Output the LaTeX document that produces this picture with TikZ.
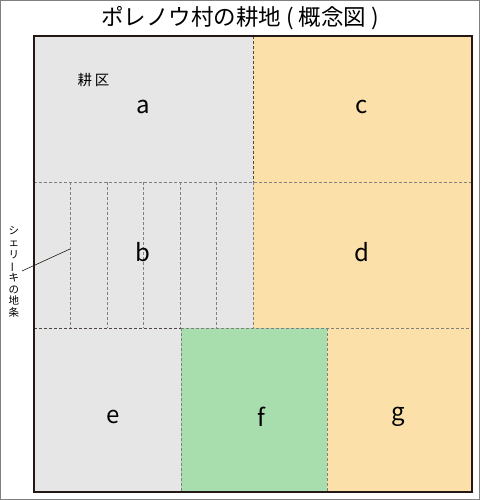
\documentclass[tikz,border=0pt]{standalone}
\usepackage{fontspec}
\setmainfont{Noto Sans CJK JP}
\newfontfamily\cjk{Noto Sans CJK JP}
\definecolor{plotgray}{HTML}{E6E6E6}
\definecolor{plotorange}{HTML}{FBE1A9}
\definecolor{plotgreen}{HTML}{A8DEAE}
\definecolor{frameblack}{HTML}{231815}
\definecolor{dashgray}{HTML}{808080}
\tikzset{
  letter/.style={font=\fontsize{24}{28}\selectfont, text=black, inner sep=0pt},
  graydash/.style={draw=dashgray, line width=0.9pt, dash pattern=on 3pt off 2pt},
  darkdash/.style={draw=frameblack!80, line width=0.7pt, dash pattern=on 3pt off 2pt},
}
\begin{document}
\begin{tikzpicture}[x=1pt,y=-1pt]
\useasboundingbox (0,0) rectangle (480,500);
\draw[dashgray, line width=1pt] (0.5,0.5) rectangle (479.5,499.5);
% title
\node[font=\fontsize{22.5}{26}\selectfont] (title) at (240,18) {ポレノウ村の耕地 ( 概念図 )};
% regions
\fill[plotgray] (34,36) rectangle (253,182);
\fill[plotgray] (34,182) rectangle (253,328);
\fill[plotorange] (253,36) rectangle (472,182);
\fill[plotorange] (253,182) rectangle (472,328);
\fill[plotgray] (34,328) rectangle (181,492);
\fill[plotgreen] (181,328) rectangle (327,492);
\fill[plotorange] (327,328) rectangle (472,492);
% dividing lines
\draw[darkdash] (253,36) -- (253,182);
\draw[graydash] (34,182) -- (472,182);
\draw[graydash] (253,182) -- (253,328);
\draw[darkdash] (34,328) -- (181,328);
\draw[graydash] (181,328) -- (472,328);
\draw[graydash] (181,328) -- (181,492);
\draw[graydash] (327,328) -- (327,492);
% strips in b
\foreach \x in {70.5,107,143.5,180,216.5}{
  \draw[graydash] (\x,182) -- (\x,328);
}
% outer frame
\draw[frameblack, line width=2pt] (34,36) rectangle (472,492);
% labels
\node[font=\fontsize{14.5}{17}\selectfont] (kouku) at (93.5,80) {耕\hspace{3pt}区};
\node[letter] (la) at (143,107) {a};
\node[letter] (lc) at (362,107) {c};
\node[letter] (lb) at (143,252) {b};
\node[letter] (ld) at (362,252) {d};
\node[letter] (le) at (113,417) {e};
\node[letter] (lf) at (261,417) {f};
\node[letter] (lg) at (398,417) {g};
% side label
\node[font=\fontsize{10.5}{11.7}\selectfont, align=center, inner sep=0pt] (sheriki) at (14,272)
  {シ\\ェ\\リ\\\rotatebox[origin=c]{90}{ー}\\キ\\の\\地\\条};
\coordinate (strip) at (70,249);
\coordinate (lead) at (22,271);
\draw[frameblack, line width=0.6pt] (lead) -- (strip);
\end{tikzpicture}
\end{document}
